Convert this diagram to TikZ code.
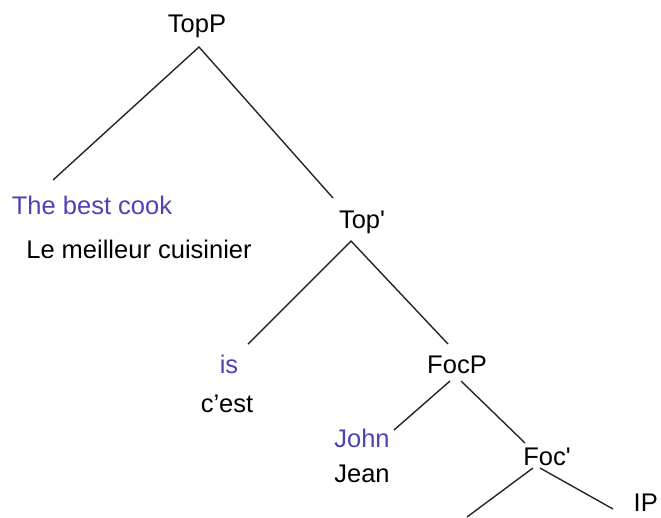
\documentclass[tikz,border=0pt]{standalone}
\usepackage{fontspec}
\setmainfont{Liberation Sans}
\definecolor{eng}{RGB}{78,66,182}
\begin{document}
\begin{tikzpicture}[x=1pt,y=-1pt,
  lbl/.style={anchor=base,inner sep=0pt,font=\fontsize{25.5}{30}\selectfont},
  en/.style={lbl,text=eng},
  br/.style={line width=1.4pt,draw=black!85}]
\useasboundingbox (0,0) rectangle (661,517);
% labels
\node[lbl] (TopP) at (197,32) {TopP};
\node[en]  (best) at (92,214) {The best cook};
\node[lbl] (meil) at (139,258) {Le meilleur cuisinier};
\node[lbl] (Topb) at (362,228) {Top\textquotesingle};
\node[en]  (is) at (229,373) {is};
\node[lbl] (cest) at (227,412) {c'est};
\node[lbl] (FocP) at (457,373) {FocP};
\node[en]  (John) at (362,447) {John};
\node[lbl] (Jean) at (362,482) {Jean};
\node[lbl] (Focb) at (547,465) {Foc\textquotesingle};
\node[lbl,anchor=base east] (IP) at (658,511) {IP};
% branch end points
\coordinate (a1) at (199,47);  \coordinate (a1l) at (53,180);  \coordinate (a1r) at (333,198);
\coordinate (a2) at (351,241); \coordinate (a2l) at (248,344); \coordinate (a2r) at (448,344);
\coordinate (a3l0) at (450,381); \coordinate (a3l) at (394,430);
\coordinate (a3r0) at (461,381); \coordinate (a3r) at (525,443);
\coordinate (a4l0) at (533,468); \coordinate (a4l) at (467,517);
\coordinate (a4r0) at (540,468); \coordinate (a4r) at (613,509);
\draw[br] (a1l) -- (a1) -- (a1r);
\draw[br] (a2l) -- (a2) -- (a2r);
\draw[br] (a3l0) -- (a3l);
\draw[br] (a3r0) -- (a3r);
\draw[br] (a4l0) -- (a4l);
\draw[br] (a4r0) -- (a4r);
\end{tikzpicture}
\end{document}
